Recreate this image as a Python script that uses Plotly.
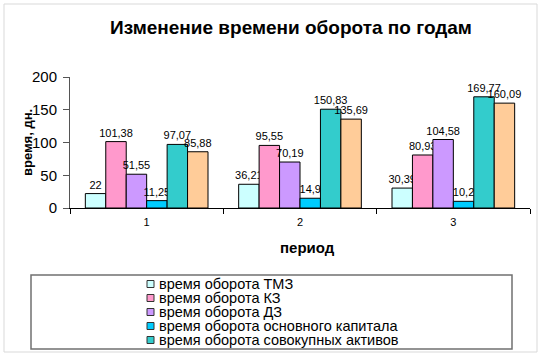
import plotly.graph_objects as go

periods = ["1", "2", "3"]
series_names = [
    "время оборота ТМЗ",
    "время оборота КЗ",
    "время оборота ДЗ",
    "время оборота основного капитала",
    "время оборота совокупных активов",
    "время оборота",
]
tmz = [22, 36.21, 30.39]
kz = [101.38, 95.55, 80.93]
dz = [51.55, 70.19, 104.58]
osn_kap = [11.25, 14.9, 10.2]
sov_akt = [97.07, 150.83, 169.77]
sixth = [85.88, 135.69, 160.09]
colors = ["#CCFFFF", "#FF99CC", "#CC99FF", "#00CCFF", "#33CCCC", "#FFCC99"]
all_values = [tmz, kz, dz, osn_kap, sov_akt, sixth]

W, H = 544, 360
L, R, T, B = 70, 14, 77, 152
PW, PH = W - L - R, H - T - B
FONT = "Liberation Sans, Arial"


def px(x):
    return (x - L) / PW


def py(y):
    return (H - B - y) / PH


def fmt(v):
    return ("%g" % v).replace(".", ",")


fig = go.Figure()
for name, vals, col in zip(series_names, all_values, colors):
    fig.add_trace(go.Bar(
        x=periods, y=vals, name=name,
        marker=dict(color=col, line=dict(color="#000000", width=1)),
        text=[fmt(v) for v in vals], textposition="outside",
        constraintext="none",
        textfont=dict(family=FONT, size=11, color="#000000"),
        cliponaxis=False, showlegend=False,
    ))

shapes = []
annotations = []
# outer border
shapes.append(dict(type="rect", xref="paper", yref="paper",
                   x0=px(4), x1=px(537), y0=py(352), y1=py(4),
                   line=dict(color="#D9D9D9", width=1), layer="below"))
# legend box
shapes.append(dict(type="rect", xref="paper", yref="paper",
                   x0=px(31), x1=px(512), y0=py(349), y1=py(275),
                   line=dict(color="#707070", width=1.5)))
# legend entries (first five are visible, the box clips the rest)
for i in range(5):
    cy = 284 + i * 14
    shapes.append(dict(type="rect", xref="paper", yref="paper",
                       x0=px(147), x1=px(154), y0=py(cy + 3.5), y1=py(cy - 3.5),
                       fillcolor=colors[i], line=dict(color="#333333", width=1)))
    annotations.append(dict(text=series_names[i], xref="paper", yref="paper",
                            x=px(157), y=py(cy), xanchor="left", yanchor="middle",
                            showarrow=False,
                            font=dict(family=FONT, size=14.5, color="#000000")))
# axis titles
annotations.append(dict(text="<b>время, дн.</b>", xref="paper", yref="paper",
                        x=px(27), y=py(143), xanchor="center", yanchor="middle",
                        textangle=-90, showarrow=False,
                        font=dict(family=FONT, size=13, color="#000000")))
annotations.append(dict(text="<b>период</b>", xref="paper", yref="paper",
                        x=px(307), y=py(247), xanchor="center", yanchor="middle",
                        showarrow=False,
                        font=dict(family=FONT, size=15, color="#000000")))

fig.update_layout(
    width=W, height=H,
    margin=dict(l=L, r=R, t=T, b=B),
    paper_bgcolor="#FFFFFF", plot_bgcolor="#FFFFFF",
    barmode="group", bargap=0.2, bargroupgap=0,
    title=dict(text="<b>Изменение времени оборота по годам</b>",
               x=291 / W, y=1 - 27 / H, xanchor="center", yanchor="middle",
               xref="container", yref="container",
               font=dict(family=FONT, size=19, color="#000000")),
    xaxis=dict(type="category", showgrid=False, showline=True, linecolor="#000000",
               linewidth=1, ticks="outside", tickson="boundaries", ticklen=5,
               tickcolor="#000000", ticklabelstandoff=4,
               tickfont=dict(family=FONT, size=11, color="#000000")),
    yaxis=dict(range=[0, 200], tickvals=[0, 50, 100, 150, 200], showgrid=False,
               showline=True, linecolor="#555555", linewidth=1, ticks="outside",
               ticklen=6, tickcolor="#555555", zeroline=False, ticklabelstandoff=3,
               tickfont=dict(family=FONT, size=15, color="#000000")),
    shapes=shapes, annotations=annotations,
    showlegend=False,
)

fig.write_html("out.html", config={"displayModeBar": False},
               post_script="document.body.style.margin='0px';")
